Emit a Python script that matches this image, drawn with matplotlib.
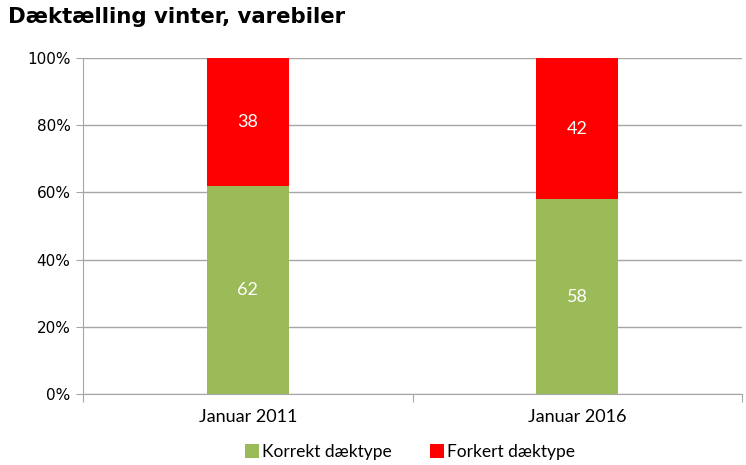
import matplotlib.pyplot as plt
import numpy as np

# data
categories = ['Januar 2011', 'Januar 2016']
korrekt = [62, 58]
forkert = [38, 42]
series_names = ['Korrekt dæktype', 'Forkert dæktype']

green = '#9BBB59'
red = '#FF0000'
gray = '#A6A6A6'

fig = plt.figure(figsize=(7.46, 4.65), dpi=100)
ax = fig.add_axes([83/746, 1-394/465, 659/746, 336/465])

x = np.arange(len(categories))
w = 0.25
b1 = ax.bar(x, korrekt, width=w, color=green, label=series_names[0], zorder=3)
b2 = ax.bar(x, forkert, width=w, bottom=korrekt, color=red, label=series_names[1], zorder=3)

# white value labels in the middle of each segment
for i in range(len(categories)):
    ax.text(x[i], korrekt[i]/2, str(korrekt[i]), ha='center', va='center',
            color='white', fontsize=13, family='Lato', zorder=4)
    ax.text(x[i], korrekt[i] + forkert[i]/2, str(forkert[i]), ha='center', va='center',
            color='white', fontsize=13, family='Lato', zorder=4)

ax.set_xlim(-0.5, 1.5)
ax.set_ylim(0, 100)
ax.set_yticks(range(0, 101, 20))
ax.set_yticklabels([f'{v}%' for v in range(0, 101, 20)], fontsize=11, family='DejaVu Sans')
ax.yaxis.grid(True, color=gray, linewidth=1, zorder=0)

ax.set_xticks([-0.5, 0.5, 1.5])
ax.set_xticklabels([])
ax.set_xticks(x, minor=True)
ax.set_xticklabels(categories, minor=True, fontsize=13, family='Lato')
ax.tick_params(axis='x', which='minor', length=0, pad=11)
ax.tick_params(axis='x', which='major', length=6, color=gray)
ax.tick_params(axis='y', length=5, color=gray, pad=4)

for s in ['top', 'right']:
    ax.spines[s].set_visible(False)
ax.spines['left'].set_color(gray)
ax.spines['bottom'].set_color(gray)

fig.text(8/746, 1-17/465, 'Dæktælling vinter, varebiler', fontsize=15.3,
         fontweight='bold', family='DejaVu Sans', va='center', ha='left')

leg = fig.legend(handles=[b1, b2], loc='center', bbox_to_anchor=(410/746, 1-452/465),
                 ncol=2, frameon=False, prop={'family': 'Lato', 'size': 12.5},
                 handlelength=0.8, handleheight=0.8, handletextpad=0.2, columnspacing=2.2)

fig.savefig('out.png', dpi=100)
